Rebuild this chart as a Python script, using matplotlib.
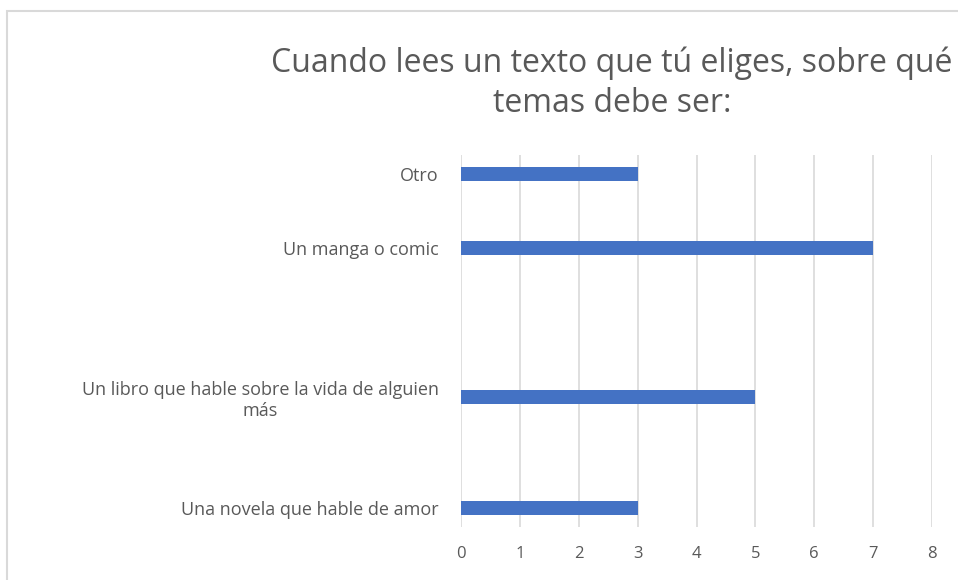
import matplotlib.pyplot as plt
from matplotlib.patches import Rectangle

# categorías (de abajo hacia arriba), con huecos vacíos como en la hoja original
categorias = ["Una novela que hable de amor", "", "",
              "Un libro que hable sobre la vida de alguien\nmás", "", "", "",
              "Un manga o comic", "", "Otro"]
valores = [3, 0, 0, 5, 0, 0, 0, 7, 0, 3]
ticks_x = [0, 1, 2, 3, 4, 5, 6, 7, 8]

titulo = "Cuando lees un texto que tú eliges, sobre qué\ntemas debe ser:"

plt.rcParams['font.family'] = ['Open Sans', 'DejaVu Sans']

W, H = 958, 580
fig = plt.figure(figsize=(W / 100, H / 100), dpi=100)
ax = fig.add_axes([461 / W, 1 - 527 / H, (932 - 461) / W, (527 - 155) / H])

pos = list(range(len(categorias)))
ax.barh(pos, valores, height=0.38, color='#4472C4', zorder=3)

ax.set_xlim(0, 8)
ax.set_ylim(-0.5, len(categorias) - 0.5)
ax.set_xticks(ticks_x)
ax.set_xticklabels([str(t) for t in ticks_x])
ax.set_yticks(pos)
ax.set_yticklabels(categorias, multialignment='center')

ax.grid(axis='x', color='#d9d9d9', linewidth=1.2, zorder=0)
for s in ax.spines.values():
    s.set_visible(False)
ax.tick_params(length=0, colors='#595959')
ax.tick_params(axis='y', pad=16, labelsize=13)
ax.tick_params(axis='x', pad=14, labelsize=12)

# título centrado sobre el área del gráfico
fig.text(612 / W, 1 - 83 / H, titulo, ha='center', va='center',
         fontsize=23, color='#595959', linespacing=1.3)

# borde del gráfico (recortado por la derecha y abajo)
fig.patches.append(Rectangle((7 / W, -0.2), 2, 1.2 - 11 / H,
                             transform=fig.transFigure, fill=False,
                             edgecolor='#d9d9d9', linewidth=1.5, clip_on=False))

fig.savefig('out.png', dpi=100)
